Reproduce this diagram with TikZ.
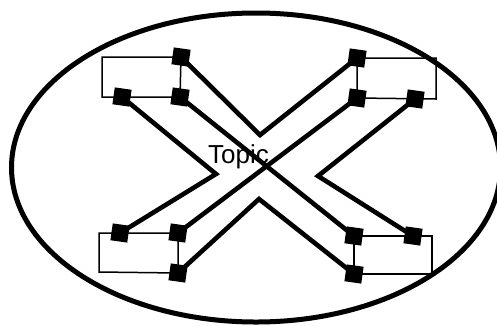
\documentclass[tikz,border=0pt]{standalone}
\usepackage{fontspec}
\setmainfont{Liberation Sans}
\begin{document}
\begin{tikzpicture}[x=1pt,y=-1pt,
  sq/.style={fill=black,draw=none,minimum size=17pt,inner sep=0pt,rotate=-8},
  thick line/.style={line width=4.6pt},
  thin line/.style={line width=1.5pt}]
\useasboundingbox (0,0) rectangle (497,325);
\begin{scope}
\clip (0,0) rectangle (497,325);
% ellipse
\draw[line width=5pt] (256,167.5) ellipse [x radius=244.5, y radius=154.5];
\end{scope}
% inner vertices
\coordinate (vt) at (260,135);
\coordinate (vl) at (216,174);
\coordinate (vr) at (318,176);
\coordinate (vb) at (259,199);
% thin rectangles
\draw[thin line] (181,57) -- (102,57) -- (102,97) -- (180,97) -- cycle;
\draw[thin line] (357,58) -- (436,58) -- (436,99) -- (357,98) -- cycle;
\draw[thin line] (178,233) -- (99,233) -- (99,272) -- (178,273) -- cycle;
\draw[thin line] (354,236) -- (432,236) -- (432,274) -- (354,274) -- cycle;
% squares
\node[sq] (tl1) at (181,57) {};
\node[sq] (tl2) at (122,97) {};
\node[sq] (tl3) at (180,97) {};
\node[sq] (tr1) at (357,58) {};
\node[sq] (tr2) at (357,98) {};
\node[sq] (tr3) at (415,99) {};
\node[sq] (bl1) at (120,233) {};
\node[sq] (bl2) at (178,233) {};
\node[sq] (bl3) at (178,273) {};
\node[sq] (br1) at (354,236) {};
\node[sq] (br2) at (413,236) {};
\node[sq] (br3) at (354,274) {};
% thick X lines
\draw[thick line] (tl1.center) -- (vt) -- (tr1.center);
\draw[thick line] (tl2.center) -- (vl) -- (bl1.center);
\draw[thick line] (tr3.center) -- (vr) -- (br2.center);
\draw[thick line] (bl3.center) -- (vb) -- (br3.center);
\draw[thick line] (tl3.center) -- (br1.center);
\draw[thick line] (tr2.center) -- (bl2.center);
% label
\node[font=\fontsize{26}{28}\selectfont,inner sep=0pt,anchor=base west] (topic) at (208,163) {Topic};
\end{tikzpicture}
\end{document}
